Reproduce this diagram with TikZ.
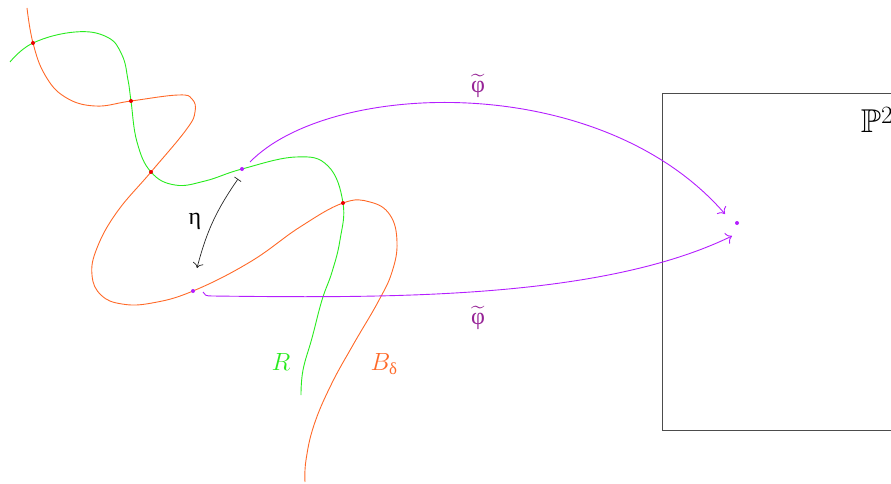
\documentclass[tikz,border=0pt]{standalone}
\usepackage{amsmath,amssymb}
\usepackage{fontspec}
\newfontfamily\grk{Liberation Serif}
\usetikzlibrary{arrows.meta}
\definecolor{cgreen}{RGB}{40,235,30}
\definecolor{corange}{RGB}{255,105,40}
\definecolor{cpurple}{RGB}{180,30,255}
\definecolor{clabel}{RGB}{150,35,150}
\definecolor{cred}{RGB}{235,0,0}
\tikzset{
  curveR/.style={cgreen, line width=0.9pt},
  curveB/.style={corange, line width=0.9pt},
  mapline/.style={cpurple, line width=0.9pt, -{To[scale=1.6]}},
  reddot/.style={circle, fill=cred, inner sep=0pt, minimum size=4pt},
  pdot/.style={circle, fill=cpurple, inner sep=0pt, minimum size=4pt},
  lbl/.style={font=\fontsize{24}{28}\selectfont}
}
\begin{document}
\begin{tikzpicture}[x=1pt,y=-1pt]
\useasboundingbox (0,0) rectangle (891,484);
% box P^2
\draw[gray!60!black, line width=0.8pt] (905,93) -- (662,93) -- (662,430) -- (905,430);
\node[font=\fontsize{33}{36}\selectfont] (P2) at (877,120) {$\mathbb{P}^2$};
% curve R
\draw[curveR] plot[smooth, tension=0.7] coordinates {(10,62) (33,43) (75,32) (107,37) (122,55) (128,80) (131,101) (137,142) (151,172) (175,185) (205,181) (242,169) (296,157) (328,166) (343,203) (340,240) (332,272) (322,300) (312,338) (303,370) (301,395)};
% curve B
\draw[curveB] plot[smooth, tension=0.7] coordinates {(27,8) (33,43) (45,75) (65,97) (95,106) (131,101) (178,95) (192,99) (195,112) (186,130) (151,172) (117,212) (97,248) (92,275) (101,295) (122,304) (152,303) (193,291) (250,262) (300,227) (343,203) (370,202) (390,215) (397,242) (392,272) (378,302) (353,345) (331,385) (314,425) (306,460) (305,482)};
% dots
\node[reddot] (r1) at (33,43) {};
\node[reddot] (r2) at (131,101) {};
\node[reddot] (r3) at (151,172) {};
\node[reddot] (r4) at (343,203) {};
\node[pdot] (x) at (242,169) {};
\node[pdot] (y) at (193,291) {};
\node[pdot] (z) at (737,223) {};
% eta
\coordinate (e1) at (238,179);
\coordinate (e2) at (197,268);
\draw[black!85, line width=0.7pt, {Bar[width=8pt]}-{To[scale=1.6]}] (e1) to[bend right=10] (e2);
\node[font=\grk\fontsize{24}{28}\selectfont] (eta) at (195,221) {η};
% maps
\coordinate (a1) at (250,162);
\coordinate (a2) at (725,214);
\draw[mapline] (a1) .. controls (330,80) and (600,70) .. (a2);
\coordinate (b1) at (203,292);
\coordinate (b2) at (732,236);
\draw[mapline] (b1) .. controls (204,295) and (206,296) .. (212,296) .. controls (385,298) and (600,300) .. (b2);
\node[text=clabel, font=\grk\fontsize{24}{28}\selectfont] (phi1) at (478,86) {$\widetilde{\text{φ}}$};
\node[text=clabel, font=\grk\fontsize{24}{28}\selectfont] (phi2) at (478,318) {$\widetilde{\text{φ}}$};
\node[text=cgreen, lbl] (R) at (281,362) {$R$};
\node[text=corange, lbl] (B) at (384,364) {$B_{\text{\grk δ}}$};
\end{tikzpicture}
\end{document}
